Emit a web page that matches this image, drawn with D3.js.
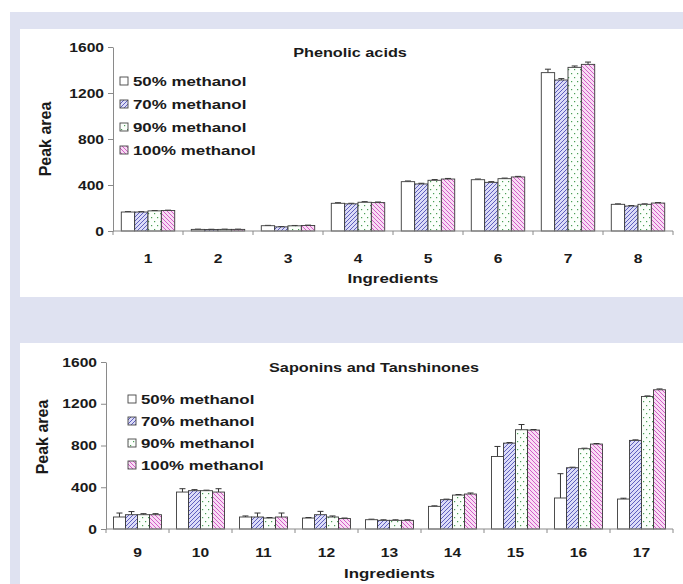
<!DOCTYPE html>
<html>
<head>
<meta charset="utf-8">
<script src="https://cdn.jsdelivr.net/npm/d3@7"></script>
<style>
  body { margin: 0; background: #fff; }
  svg text { font-family: "Liberation Sans", Arial, sans-serif; font-weight: bold; fill: #1a1a1a; }
</style>
</head>
<body>
<script>
// series + categories
var seriesNames = ["50% methanol", "70% methanol", "90% methanol", "100% methanol"];
var yTicks = [0, 400, 800, 1200, 1600];

var phenolicCats = ["1", "2", "3", "4", "5", "6", "7", "8"];
var phenolic50 = [165, 14, 46, 241, 429, 446, 1377, 232];
var phenolic70 = [165, 13, 36, 236, 409, 423, 1313, 217];
var phenolic90 = [175, 14, 45, 250, 441, 455, 1423, 232];
var phenolic100 = [178, 14, 48, 247, 452, 470, 1449, 243];
var phenolicErr50 = [3, 2, 3, 5, 6, 6, 30, 4];
var phenolicErr70 = [3, 2, 3, 5, 6, 6, 12, 4];
var phenolicErr90 = [3, 2, 3, 5, 6, 5, 12, 4];
var phenolicErr100 = [3, 2, 3, 5, 5, 5, 20, 4];

var saponinCats = ["9", "10", "11", "12", "13", "14", "15", "16", "17"];
var saponin50 = [115, 354, 115, 105, 89, 217, 695, 297, 287];
var saponin70 = [137, 367, 115, 137, 83, 281, 823, 587, 849];
var saponin90 = [137, 367, 105, 115, 83, 325, 951, 769, 1270];
var saponin100 = [137, 354, 115, 100, 83, 335, 948, 814, 1334];
var saponinErr50 = [38, 32, 10, 5, 5, 5, 96, 233, 8];
var saponinErr70 = [30, 10, 38, 32, 5, 5, 5, 5, 5];
var saponinErr90 = [10, 5, 5, 10, 5, 5, 50, 5, 5];
var saponinErr100 = [10, 32, 38, 5, 5, 10, 5, 5, 8];

var W = 683, H = 584;
var sx = 1.25; // the picture's text is a bit wide

var svg = d3.select("body").append("svg")
  .attr("width", W).attr("height", H);

// patterns
var defs = svg.append("defs");
var p70 = defs.append("pattern").attr("id", "p70").attr("patternUnits", "userSpaceOnUse")
  .attr("width", 4).attr("height", 4);
p70.append("rect").attr("width", 4).attr("height", 4).attr("fill", "#dcdcf8");
p70.append("path").attr("d", "M-1,1 l2,-2 M0,4 l4,-4 M3,5 l2,-2").attr("stroke", "#4848b4").attr("stroke-width", 0.85);

var p90 = defs.append("pattern").attr("id", "p90").attr("patternUnits", "userSpaceOnUse")
  .attr("width", 6).attr("height", 8);
p90.append("rect").attr("width", 6).attr("height", 8).attr("fill", "#fbfffb");
p90.append("rect").attr("x", 1).attr("y", 1).attr("width", 1.2).attr("height", 1.2).attr("fill", "#4a9e55");
p90.append("rect").attr("x", 4).attr("y", 5).attr("width", 1.2).attr("height", 1.2).attr("fill", "#4a9e55");

var p100 = defs.append("pattern").attr("id", "p100").attr("patternUnits", "userSpaceOnUse")
  .attr("width", 4).attr("height", 4);
p100.append("rect").attr("width", 4).attr("height", 4).attr("fill", "#f8dcf4");
p100.append("path").attr("d", "M-1,3 l2,2 M0,0 l4,4 M3,-1 l2,2").attr("stroke", "#cc48c0").attr("stroke-width", 0.85);

var fills = ["#ffffff", "url(#p70)", "url(#p90)", "url(#p100)"];

// frame
svg.append("rect").attr("x", 10).attr("y", 12).attr("width", W - 10).attr("height", H - 12).attr("fill", "#dfe2f1");
svg.append("rect").attr("x", 20).attr("y", 29).attr("width", W - 20).attr("height", 268).attr("fill", "#fff");
svg.append("rect").attr("x", 20).attr("y", 343).attr("width", W - 20).attr("height", H - 343).attr("fill", "#fff");

function stretchText(sel) {
  sel.each(function () {
    var t = d3.select(this);
    var x = +t.attr("x") || 0, y = +t.attr("y") || 0;
    t.attr("transform", "translate(" + x + "," + y + ") scale(" + sx + ",1) translate(" + (-x) + "," + (-y) + ")");
  });
}

function drawPanel(o) {
  var g = svg.append("g");
  var x = d3.scaleBand().domain(o.cats).range([o.x0, o.x1]);
  var y = d3.scaleLinear().domain([0, 1600]).range([o.y0, o.y1]);
  var xs = d3.scaleBand().domain(seriesNames).range([0, x.step()]).paddingOuter(0.62);

  var rows = [];
  o.vals.forEach(function (arr, si) {
    arr.forEach(function (v, ci) {
      rows.push({ cat: o.cats[ci], s: seriesNames[si], si: si, v: v, e: o.errs[si][ci] });
    });
  });

  // error bars (upper only)
  var eb = g.selectAll(".eb").data(rows).enter().append("g");
  eb.append("line")
    .attr("x1", function (d) { return x(d.cat) + xs(d.s) + xs.bandwidth() / 2; })
    .attr("x2", function (d) { return x(d.cat) + xs(d.s) + xs.bandwidth() / 2; })
    .attr("y1", function (d) { return y(d.v); })
    .attr("y2", function (d) { return y(d.v + d.e); })
    .attr("stroke", "#333").attr("stroke-width", 1);
  eb.append("line")
    .attr("x1", function (d) { return x(d.cat) + xs(d.s) + xs.bandwidth() / 2 - 3; })
    .attr("x2", function (d) { return x(d.cat) + xs(d.s) + xs.bandwidth() / 2 + 3; })
    .attr("y1", function (d) { return y(d.v + d.e); })
    .attr("y2", function (d) { return y(d.v + d.e); })
    .attr("stroke", "#333").attr("stroke-width", 1);

  g.selectAll(".bar").data(rows).enter().append("rect")
    .attr("x", function (d) { return x(d.cat) + xs(d.s); })
    .attr("width", xs.bandwidth())
    .attr("y", function (d) { return y(d.v); })
    .attr("height", function (d) { return y(0) - y(d.v); })
    .attr("fill", function (d) { return fills[d.si]; })
    .attr("stroke", "#3a3a3a").attr("stroke-width", 0.9);

  // y axis
  var ya = g.append("g").attr("transform", "translate(" + o.x0 + ",0)")
    .call(d3.axisLeft(y).tickValues(yTicks).tickSize(5).tickSizeOuter(0).tickFormat(d3.format("d")));
  ya.selectAll("path, line").attr("stroke", "#8a8a8a");
  ya.selectAll("text").attr("x", -9).attr("font-size", 12.5).attr("fill", "#1a1a1a")
    .style("font-family", null).attr("font-family", null);
  stretchText(ya.selectAll("text"));

  // x axis: line, boundary ticks, centered labels
  g.append("line").attr("x1", o.x0).attr("x2", o.x1).attr("y1", y(0)).attr("y2", y(0))
    .attr("stroke", "#8a8a8a");
  var bounds = o.cats.map(function (c) { return x(c); }).concat([x(o.cats[o.cats.length - 1]) + x.step()]);
  g.selectAll(".bt").data(bounds).enter().append("line")
    .attr("x1", function (d) { return d; }).attr("x2", function (d) { return d; })
    .attr("y1", y(0)).attr("y2", y(0) + 4).attr("stroke", "#8a8a8a");
  var cl = g.selectAll(".cl").data(o.cats).enter().append("text")
    .attr("x", function (d) { return x(d) + x.bandwidth() / 2; })
    .attr("y", o.catY).attr("text-anchor", "middle").attr("font-size", 12.5)
    .text(function (d) { return d; });
  stretchText(cl);

  var xt = g.append("text").attr("x", (o.x0 + o.x1) / 2).attr("y", o.xTitleY)
    .attr("text-anchor", "middle").attr("font-size", 13.5).text("Ingredients");
  stretchText(xt);

  g.append("text").attr("transform", "translate(" + o.yTitleX + "," + o.yTitleY + ") rotate(-90)")
    .attr("text-anchor", "middle").attr("font-size", 16).text("Peak area");

  var tt = g.append("text").attr("x", o.titleX).attr("y", o.titleY)
    .attr("text-anchor", "middle").attr("font-size", 13).text(o.title);
  stretchText(tt);

  // legend
  var lg = g.selectAll(".lg").data(seriesNames).enter().append("g");
  lg.append("rect")
    .attr("x", o.legX).attr("y", function (d, i) { return o.legY + i * o.legStep - 4; })
    .attr("width", 8).attr("height", 8)
    .attr("fill", function (d, i) { return fills[i]; })
    .attr("stroke", "#444").attr("stroke-width", 0.9);
  var lt = lg.append("text")
    .attr("x", o.legX + 13).attr("y", function (d, i) { return o.legY + i * o.legStep + 5; })
    .attr("font-size", 13.5).text(function (d) { return d; });
  stretchText(lt);
}

drawPanel({
  cats: phenolicCats,
  vals: [phenolic50, phenolic70, phenolic90, phenolic100],
  errs: [phenolicErr50, phenolicErr70, phenolicErr90, phenolicErr100],
  x0: 113, x1: 673, y0: 231, y1: 47,
  catY: 263, xTitleY: 283, yTitleX: 51, yTitleY: 139,
  title: "Phenolic acids", titleX: 350, titleY: 57,
  legX: 120, legY: 81, legStep: 23
});

drawPanel({
  cats: saponinCats,
  vals: [saponin50, saponin70, saponin90, saponin100],
  errs: [saponinErr50, saponinErr70, saponinErr90, saponinErr100],
  x0: 106, x1: 673, y0: 529, y1: 362,
  catY: 557, xTitleY: 578, yTitleX: 48, yTitleY: 437,
  title: "Saponins and Tanshinones", titleX: 374, titleY: 372,
  legX: 128, legY: 399, legStep: 22
});
</script>
</body>
</html>
